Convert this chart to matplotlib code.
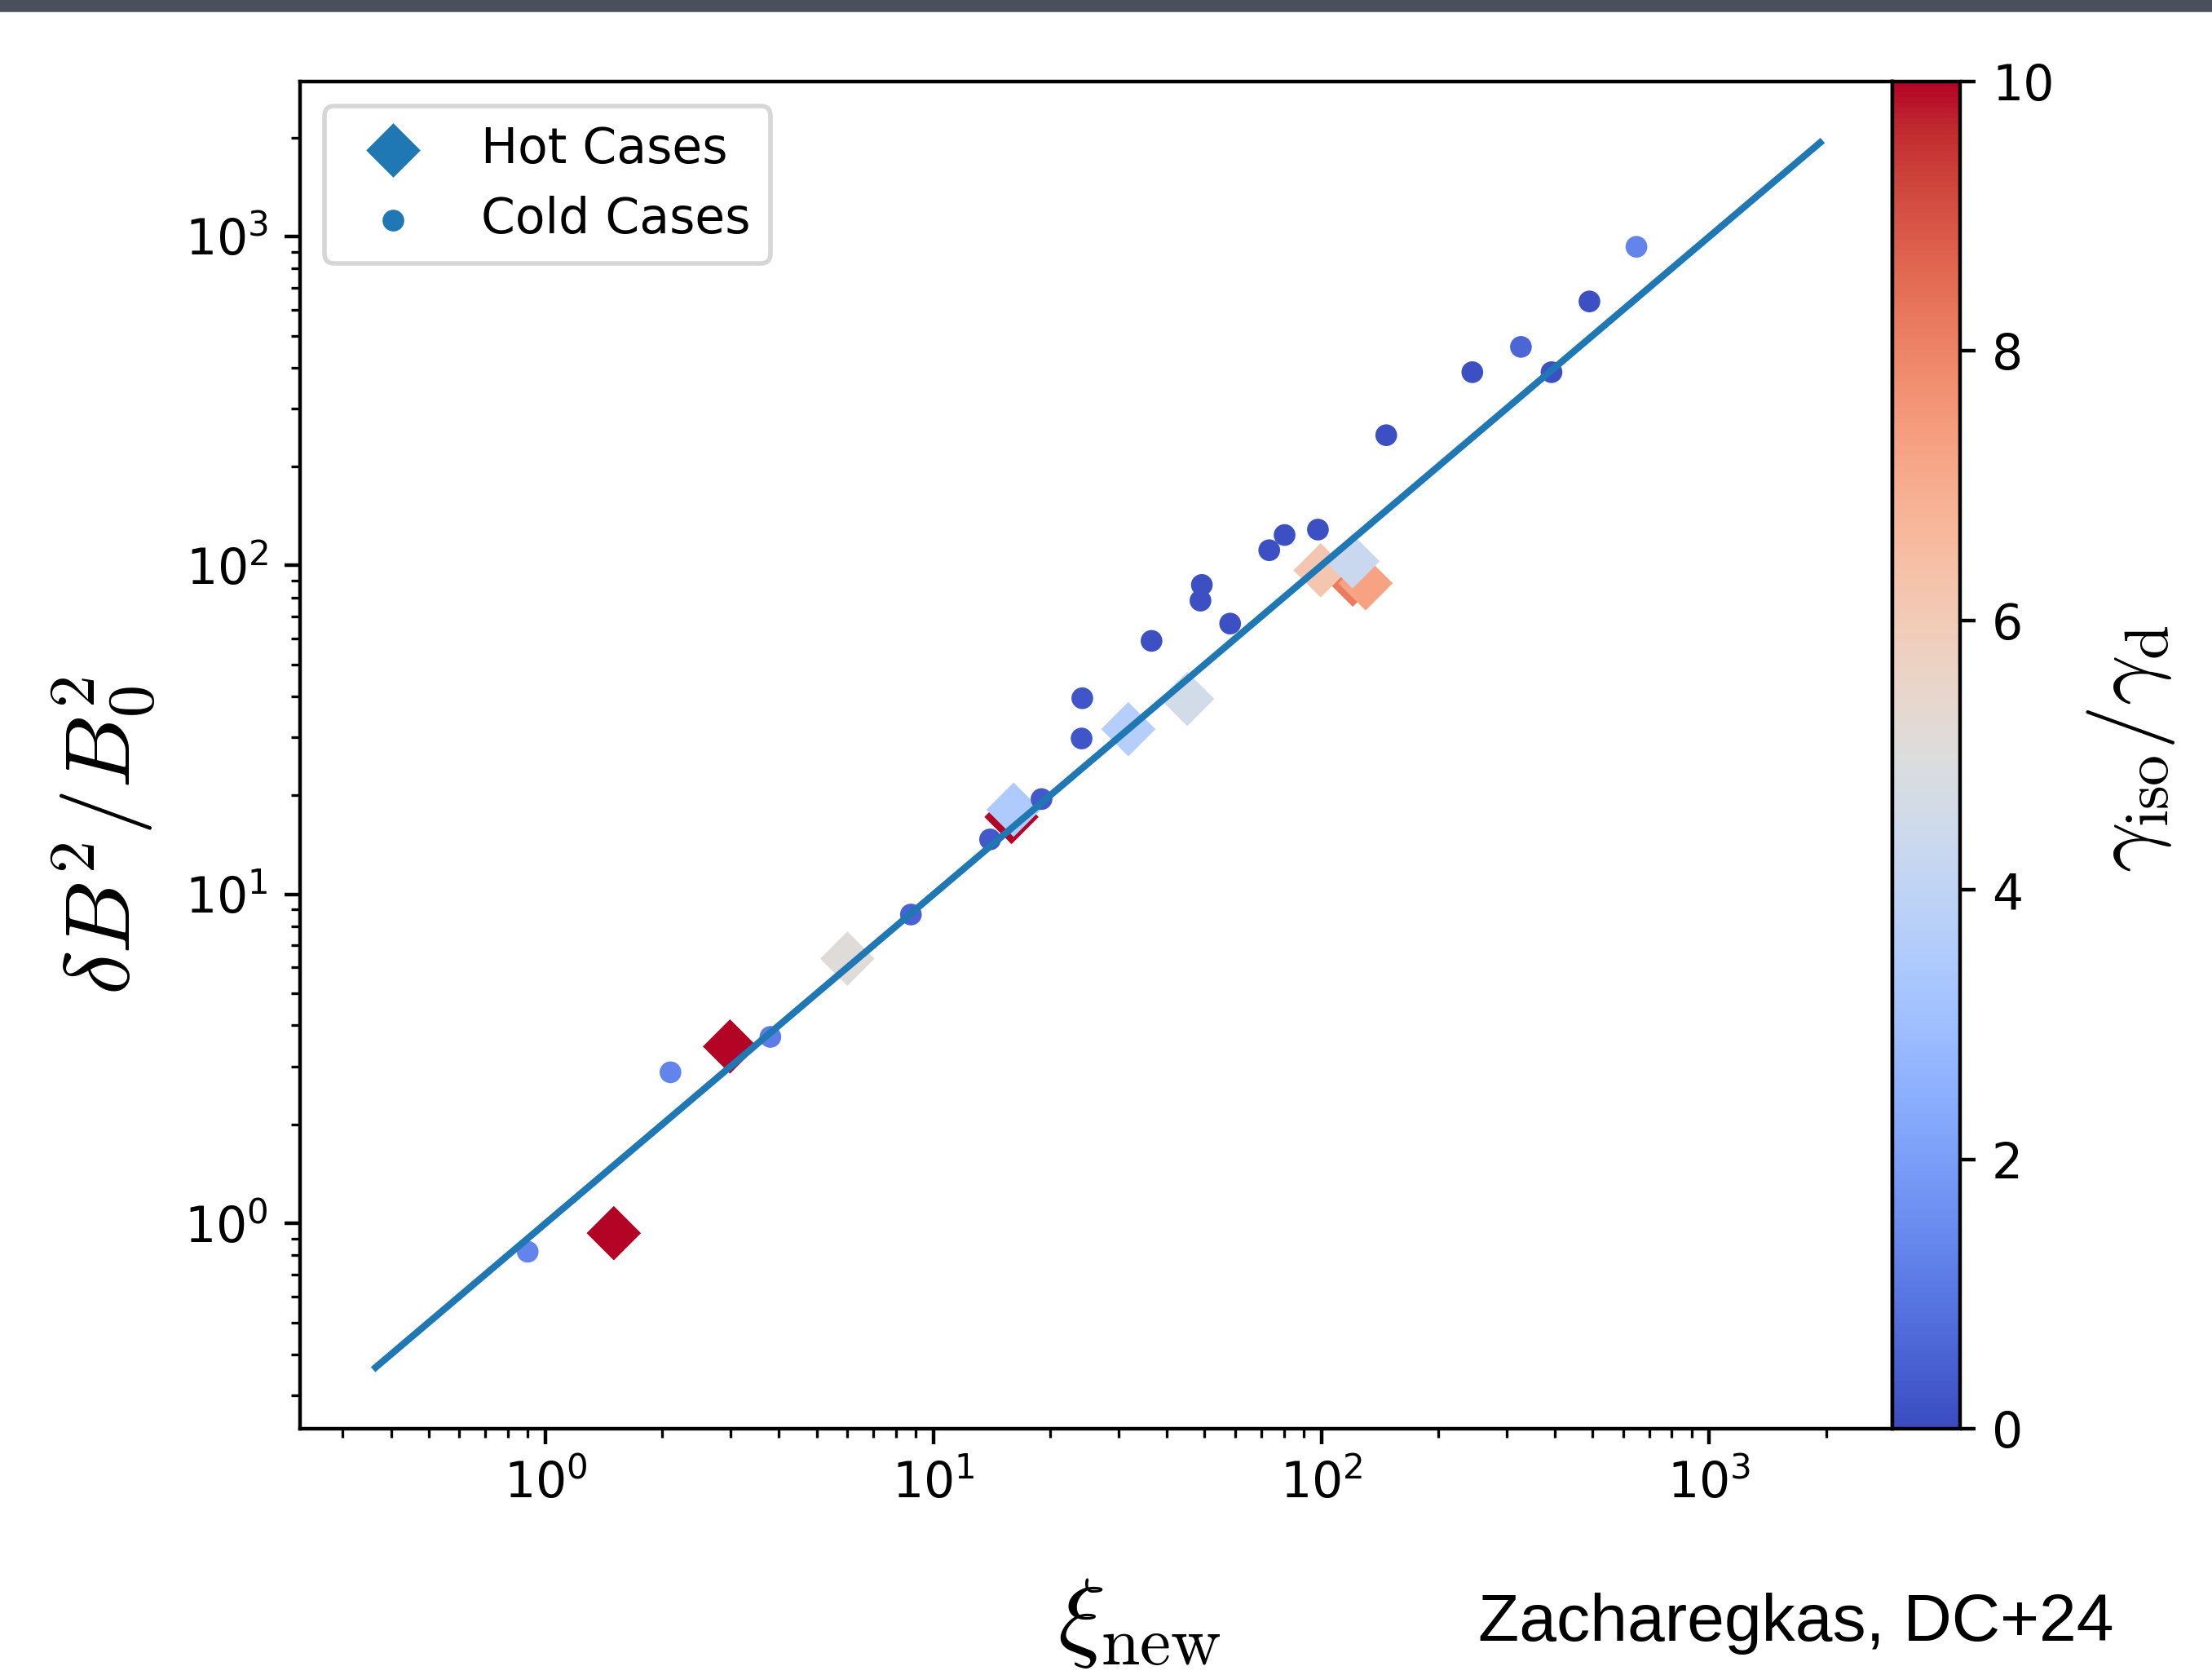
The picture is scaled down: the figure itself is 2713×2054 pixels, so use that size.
import numpy as np
import matplotlib
matplotlib.use('Agg')
import matplotlib.pyplot as plt
from matplotlib.patches import Rectangle

# Hot cases (diamonds): xi_new, dB^2/B0^2, gamma_iso/gamma_d
hot_xi = [1.50, 2.99, 6.0, 15.9, 16.1, 31.8, 45.1, 120.5, 130.0, 99.6, 120.3]
hot_db = [0.934, 3.45, 6.38, 17.2, 18.1, 31.8, 39.3, 90.6, 88.3, 96.7, 103.0]
hot_gamma = [10.0, 10.0, 5.1, 10.0, 3.5, 3.7, 4.6, 8.2, 7.3, 6.2, 4.3]

# Cold cases (dots)
cold_xi = [0.90, 2.10, 3.80, 8.75, 14.0, 19.0, 24.1, 24.2, 36.5, 48.8, 49.2,
           58.2, 73.4, 80.4, 98.0, 147.0, 245.0, 327.0, 392.0, 491.0, 649.0]
cold_db = [0.82, 2.88, 3.69, 8.69, 14.7, 19.5, 29.8, 39.5, 59.0, 78.2, 87.3,
           66.6, 111.3, 123.8, 128.6, 249.0, 387.0, 462.0, 387.0, 635.0, 931.0]
cold_gamma = [1.3, 1.3, 1.1, 0.5, 0.3, 0.3, 0.2, 0.2, 0.1, 0.1, 0.1,
              0.1, 0.1, 0.1, 0.1, 0.1, 0.1, 0.6, 0.1, 0.1, 1.3]

# one-to-one reference line end points
line_x = [0.365, 1930.0]
line_y = [0.365, 1930.0]

W, H = 2713, 2054
fig = plt.figure(figsize=(W / 400, H / 400), dpi=400)

ax = fig.add_axes([368 / W, 1 - 1752 / H, (2321 - 368) / W, (1752 - 100) / H])
cax = fig.add_axes([2321 / W, 1 - 1752 / H, (2404 - 2321) / W, (1752 - 100) / H])

ax.plot(line_x, line_y, color='C0', lw=1.5)
sc = ax.scatter(hot_xi, hot_db, c=hot_gamma, cmap='coolwarm', vmin=0, vmax=10,
                marker='D', s=72, linewidths=0)
ax.scatter(cold_xi, cold_db, c=cold_gamma, cmap='coolwarm', vmin=0, vmax=10,
           marker='.', s=92, linewidths=0)

ax.set_xscale('log')
ax.set_yscale('log')
ax.set_xlim(10 ** -0.6326, 10 ** 3.472)
ax.set_ylim(10 ** -0.6242, 10 ** 3.4713)
ax.tick_params(labelsize=10.8)

# legend proxies in default blue
h1 = ax.scatter([], [], marker='D', s=72, linewidths=0, color='C0', label='Hot Cases')
h2 = ax.scatter([], [], marker='.', s=92, linewidths=0, color='C0', label='Cold Cases')
ax.legend(handles=[h1, h2], loc='upper left', fontsize=10.8, borderaxespad=0.5,
          borderpad=0.4, labelspacing=0.45)

cb = fig.colorbar(sc, cax=cax, ticks=[0, 2, 4, 6, 8, 10])
cb.ax.tick_params(labelsize=10.8)

fig.text(128 / W, 1 - 1025 / H, r'$\delta B^2/B_0^2$', rotation=90, ha='center', va='center',
         fontsize=20.5, math_fontfamily='cm')
fig.text(2614 / W, 1 - 918 / H, r'$\gamma_{\rm iso}/\gamma_{\rm d}$', rotation=90, ha='center',
         va='center', fontsize=19.5, math_fontfamily='cm')
fig.text(1397 / W, 1 - 1990 / H, r'$\xi_{\rm new}$', ha='center', va='center',
         fontsize=22, math_fontfamily='cm')
fig.text(1813 / W, 1 - 2012 / H, 'Zacharegkas, DC+24', ha='left', va='baseline',
         fontsize=14.8, family='Liberation Sans')

# dark strip along the top edge
fig.patches.append(Rectangle((0, 1 - 12 / H), 1, 12 / H, transform=fig.transFigure,
                             color='#4a4f5a', zorder=10))

fig.savefig('out.png', dpi=400)
